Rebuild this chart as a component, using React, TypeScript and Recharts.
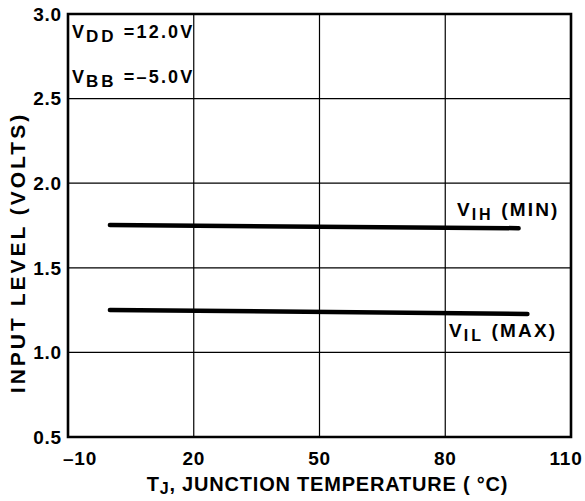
import React from "react";
import {
  LineChart,
  Line,
  XAxis,
  YAxis,
  CartesianGrid,
  ReferenceArea,
  ReferenceDot,
  Label,
} from "recharts";

// ---- data ----
const tempTicks = [-10, 20, 50, 80, 110];
const levelTicks = [0.5, 1.0, 1.5, 2.0, 2.5, 3.0];

const vihTemp = [0, 97.5];
const vihLevel = [1.753, 1.734];

const vilTemp = [0, 99.6];
const vilLevel = [1.251, 1.227];

const vihData = vihTemp.map((t, i) => ({ t, v: vihLevel[i] }));
const vilData = vilTemp.map((t, i) => ({ t, v: vilLevel[i] }));

// annotation text
const notes = [
  { t: -9.05, v: 2.858, main: "V", sub: "DD", rest: " =12.0V", size: 18, subSize: 17 },
  { t: -9.05, v: 2.592, main: "V", sub: "BB", rest: " =–5.0V", size: 18, subSize: 17 },
  { t: 82.8, v: 1.806, main: "V", sub: "IH", rest: " (MIN)", size: 19, subSize: 16 },
  { t: 80.9, v: 1.091, main: "V", sub: "IL", rest: " (MAX)", size: 19, subSize: 16 },
];

const FONT = "'Liberation Sans', Arial, Helvetica, sans-serif";

const XTick = (props: any) => {
  const { x, y, payload, index } = props;
  const dx = index === 0 ? 12 : index === tempTicks.length - 1 ? -5 : 0;
  return (
    <text
      x={x + dx}
      y={y}
      dy="0.71em"
      textAnchor="middle"
      fontFamily={FONT}
      fontWeight={700}
      fontSize={19}
      letterSpacing={0.8}
      fill="#000"
    >
      {payload.value === -10 ? "–10" : String(payload.value)}
    </text>
  );
};

const YTick = (props: any) => {
  const { x, y, payload } = props;
  return (
    <text
      x={x}
      y={y}
      dy="0.36em"
      textAnchor="end"
      fontFamily={FONT}
      fontWeight={700}
      fontSize={19}
      letterSpacing={0.8}
      fill="#000"
    >
      {Number(payload.value).toFixed(1)}
    </text>
  );
};

const noteLabel = (n: (typeof notes)[number]) => (props: any) => {
  const vb = props.viewBox || {};
  const x = vb.x ?? 0;
  const y = vb.y ?? 0;
  return (
    <text x={x} y={y} fontFamily={FONT} fontWeight={700} fill="#000">
      <tspan fontSize={n.size}>{n.main}</tspan>
      <tspan fontSize={n.subSize} dy={4} dx={2} letterSpacing={3}>
        {n.sub}
      </tspan>
      <tspan fontSize={n.size} dy={-4} letterSpacing={2.2}>
        {n.rest}
      </tspan>
    </text>
  );
};

export default function App() {
  return (
    <div style={{ position: "absolute", left: 0, top: 0 }}>
      <LineChart
        width={585}
        height={501}
        margin={{ top: 14, right: 14, bottom: 0, left: 0 }}
      >
        <CartesianGrid stroke="#000" strokeWidth={1.2} />
        <XAxis
          dataKey="t"
          type="number"
          domain={[-10, 110]}
          ticks={tempTicks}
          allowDataOverflow
          axisLine={false}
          tickLine={false}
          tickSize={0}
          tickMargin={15}
          height={64}
          tick={<XTick />}
          interval={0}
        >
          <Label
            content={(p: any) => {
              const vb = p.viewBox || {};
              const cx = (vb.x ?? 0) + (vb.width ?? 0) / 2 + 8;
              const cy = (vb.y ?? 0) + 54;
              return (
                <text
                  x={cx}
                  y={cy}
                  textAnchor="middle"
                  fontFamily={FONT}
                  fontWeight={700}
                  fontSize={20}
                  letterSpacing={0.8}
                  fill="#000"
                >
                  <tspan>T</tspan>
                  <tspan fontSize={16} dy={3}>J</tspan>
                  <tspan dy={-3}>, JUNCTION TEMPERATURE ( °C)</tspan>
                </text>
              );
            }}
          />
        </XAxis>
        <YAxis
          type="number"
          domain={[0.5, 3.0]}
          ticks={levelTicks}
          allowDataOverflow
          axisLine={false}
          tickLine={false}
          tickSize={0}
          tickMargin={6}
          width={68}
          tick={<YTick />}
          interval={0}
        >
          <Label
            content={(p: any) => {
              const vb = p.viewBox || {};
              const cx = 17;
              const cy = (vb.y ?? 0) + (vb.height ?? 0) / 2 + 27;
              return (
                <text
                  x={cx}
                  y={cy}
                  dy="0.36em"
                  textAnchor="middle"
                  transform={`rotate(-90, ${cx}, ${cy})`}
                  fontFamily={FONT}
                  fontWeight={700}
                  fontSize={21}
                  letterSpacing={3}
                  fill="#000"
                >
                  INPUT LEVEL (VOLTS)
                </text>
              );
            }}
          />
        </YAxis>
        <ReferenceArea
          x1={-10}
          x2={110}
          y1={0.5}
          y2={3.0}
          fill="none"
          fillOpacity={0}
          stroke="#000"
          strokeWidth={2.6}
          ifOverflow="visible"
        />
        <Line
          data={vihData}
          dataKey="v"
          type="linear"
          stroke="#000"
          strokeWidth={4.5}
          strokeLinecap="round"
          dot={false}
          activeDot={false}
          isAnimationActive={false}
        />
        <Line
          data={vilData}
          dataKey="v"
          type="linear"
          stroke="#000"
          strokeWidth={4.5}
          strokeLinecap="round"
          dot={false}
          activeDot={false}
          isAnimationActive={false}
        />
        {notes.map((n, i) => (
          <ReferenceDot
            key={i}
            x={n.t}
            y={n.v}
            r={0}
            fill="none"
            stroke="none"
            ifOverflow="visible"
            label={noteLabel(n)}
          />
        ))}
      </LineChart>
    </div>
  );
}
